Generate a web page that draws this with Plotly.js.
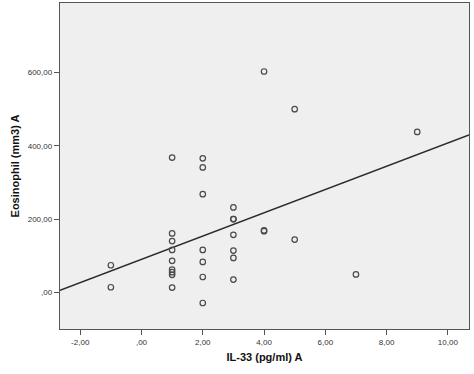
<!DOCTYPE html>
<html>
<head>
<meta charset="utf-8">
<script src="https://cdn.plot.ly/plotly-3.0.1.min.js"></script>
<style>html,body{margin:0;padding:0;background:#fff;}#chart{width:474px;height:374px;}</style>
</head>
<body>
<div id="chart"></div>
<script>
// IL-33 (pg/ml) A values
const il33 = [-1, -1,
  1, 1, 1, 1, 1, 1, 1, 1, 1,
  2, 2, 2, 2, 2, 2, 2,
  3, 3, 3, 3, 3, 3, 3,
  4, 4, 4,
  5, 5,
  7,
  9];
// Eosinophil (mm3) A values
const eosinophil = [74, 14,
  368, 161, 140, 116, 86, 62, 55, 48, 13,
  366, 341, 268, 116, 83, 42, -29,
  232, 200, 200, 157, 114, 94, 35,
  603, 169, 167,
  500, 144,
  49,
  438];

const xTickVals = [-2, 0, 2, 4, 6, 8, 10];
const xTickText = ["-2,00", ",00", "2,00", "4,00", "6,00", "8,00", "10,00"];
const yTickVals = [0, 200, 400, 600];
const yTickText = [",00", "200,00", "400,00", "600,00"];

// least squares fit computed from the data
const n = il33.length;
const mx = il33.reduce((a, b) => a + b, 0) / n;
const my = eosinophil.reduce((a, b) => a + b, 0) / n;
let sxy = 0, sxx = 0;
for (let i = 0; i < n; i++) { sxy += (il33[i] - mx) * (eosinophil[i] - my); sxx += (il33[i] - mx) ** 2; }
const slope = sxy / sxx, intercept = my - slope * mx;
const xRange = [-2.66, 10.69];
const fitX = xRange.slice();
const fitY = fitX.map(x => intercept + slope * x);

const fam = "Liberation Sans, Arial, sans-serif";

Plotly.newPlot("chart", [
  {x: fitX, y: fitY, mode: "lines", line: {color: "#2b2b2b", width: 1.5}, hoverinfo: "skip"},
  {x: il33, y: eosinophil, mode: "markers",
   marker: {symbol: "circle-open", size: 5.5, color: "#4a4a4a", line: {width: 1.2, color: "#4a4a4a"}}}
], {
  width: 474, height: 374,
  margin: {l: 60, r: 5, t: 3, b: 45},
  paper_bgcolor: "#ffffff",
  plot_bgcolor: "#efefef",
  showlegend: false,
  font: {family: fam, color: "#333"},
  xaxis: {
    range: xRange, tickmode: "array", tickvals: xTickVals, ticktext: xTickText,
    showgrid: false, zeroline: false, showline: true, mirror: true,
    linecolor: "#555", linewidth: 1.2, ticks: "outside", ticklen: 5, tickcolor: "#555",
    tickfont: {size: 8, color: "#333", family: fam},
    title: {text: "<b>IL-33 (pg/ml) A</b>", font: {size: 11, color: "#111", family: fam}, standoff: 7}
  },
  yaxis: {
    range: [-100, 790], tickmode: "array", tickvals: yTickVals, ticktext: yTickText,
    showgrid: false, zeroline: false, showline: true, mirror: true,
    linecolor: "#555", linewidth: 1.2, ticks: "outside", ticklen: 5, tickcolor: "#555",
    tickfont: {size: 8, color: "#333", family: fam},
    title: {text: "<b>Eosinophil (mm3) A</b>", font: {size: 11, color: "#111", family: fam}, standoff: 5}
  }
}, {staticPlot: true, displayModeBar: false});
</script>
</body>
</html>
